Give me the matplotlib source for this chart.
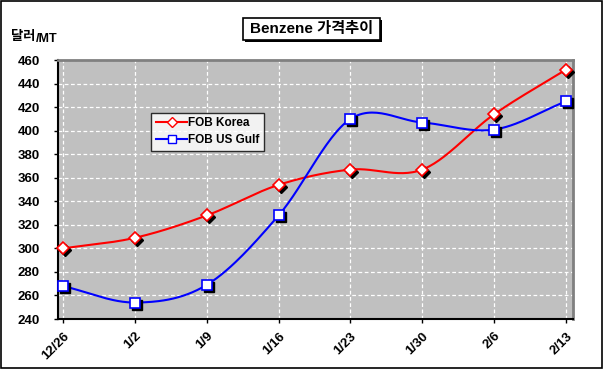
import numpy as np
import matplotlib.pyplot as plt
import matplotlib.transforms as mtransforms
from matplotlib.patches import Rectangle

plt.rcParams['font.family'] = ['Liberation Sans', 'Noto Sans CJK KR', 'DejaVu Sans']

dates = ['12/26', '1/2', '1/9', '1/16', '1/23', '1/30', '2/6', '2/13']
fob_korea = [300, 309, 328, 354, 367, 367, 414, 452]
fob_us_gulf = [268, 254, 269, 328, 410, 407, 401, 425]
y_ticks = list(range(240, 461, 20))


def smooth(xs, ys, n=30):
    # catmull-rom style curve like excel's smoothed line
    xs = np.asarray(xs, float)
    ys = np.asarray(ys, float)
    px = np.concatenate([[2 * xs[0] - xs[1]], xs, [2 * xs[-1] - xs[-2]]])
    py = np.concatenate([[2 * ys[0] - ys[1]], ys, [2 * ys[-1] - ys[-2]]])
    ox, oy = [], []
    for i in range(1, len(px) - 2):
        t = np.linspace(0, 1, n, endpoint=False)
        for p, out in ((px, ox), (py, oy)):
            p0, p1, p2, p3 = p[i - 1], p[i], p[i + 1], p[i + 2]
            out.extend(0.5 * ((2 * p1) + (-p0 + p2) * t
                              + (2 * p0 - 5 * p1 + 4 * p2 - p3) * t ** 2
                              + (-p0 + 3 * p1 - 3 * p2 + p3) * t ** 3))
    ox.append(xs[-1])
    oy.append(ys[-1])
    return np.array(ox), np.array(oy)


fig = plt.figure(figsize=(6.04, 3.69), dpi=100)
fig.patches.append(Rectangle((0.002, 0.003), 0.995, 0.994, transform=fig.transFigure,
                             fill=False, edgecolor='black', linewidth=1.2))

ax = fig.add_axes([0.096, 0.1355, 0.853, 0.7015])
ax.set_facecolor('#C0C0C0')

x = np.arange(len(dates))
shadow = mtransforms.offset_copy(ax.transData, fig=fig, x=2, y=-2, units='dots')

for vals, col, mk, lab in ((fob_korea, '#FF0000', 'D', 'FOB Korea'),
                           (fob_us_gulf, '#0000FF', 's', 'FOB US Gulf')):
    sx, sy = smooth(x, vals)
    ax.plot(sx, sy, color=col, linewidth=1.5, zorder=3)
    ms = 6 if mk == 'D' else 7
    ax.plot(x, vals, linestyle='none', marker=mk, markersize=ms, color='black',
            transform=shadow, zorder=4, clip_on=False)
    ax.plot(x, vals, linestyle='none', marker=mk, markersize=ms, markerfacecolor='white',
            markeredgecolor=col, markeredgewidth=1.2, zorder=5, clip_on=False)
    ax.plot([], [], color=col, linewidth=1.5, marker=mk, markersize=ms - 1,
            markerfacecolor='white', markeredgecolor=col, label=lab)

ax.set_xlim(-0.07, 7.1)
ax.set_ylim(240, 460)
ax.set_yticks(y_ticks)
ax.set_xticks(x)
ax.set_xticklabels(dates, rotation=45, ha='right', rotation_mode='anchor',
                   fontsize=9.5, fontweight='bold')
ax.set_yticklabels([str(v) for v in y_ticks], fontsize=9.5, fontweight='bold')
ax.tick_params(axis='both', length=3, width=1, colors='black')
ax.tick_params(axis='y', pad=10)
ax.tick_params(axis='x', pad=5)
ax.grid(True, color='white', linestyle=(0, (3, 2)), linewidth=0.9)
ax.set_axisbelow(True)
for s in ('top', 'right'):
    ax.spines[s].set_color('#808080')
    ax.spines[s].set_linewidth(2)
for s in ('left', 'bottom'):
    ax.spines[s].set_color('black')
    ax.spines[s].set_linewidth(1.5)

leg = ax.legend(loc='upper left', bbox_to_anchor=(0.17, 0.82),
                prop={'weight': 'bold', 'size': 8.5}, frameon=True, fancybox=False,
                borderpad=0.4, handlelength=2.6, handletextpad=0.1, labelspacing=0.4)
leg.get_frame().set_edgecolor('black')
leg.get_frame().set_linewidth(1)

# title box with drop shadow
fig.patches.append(Rectangle((0.4053, 0.8862), 0.227, 0.0596, transform=fig.transFigure,
                             facecolor='black', edgecolor='none'))
fig.patches.append(Rectangle((0.402, 0.8916), 0.227, 0.0596, transform=fig.transFigure,
                             facecolor='white', edgecolor='black', linewidth=1.2))
fig.text(0.5155, 0.921, 'Benzene 가격추이', fontsize=11, fontweight='bold',
         ha='center', va='center')
fig.text(0.018, 0.9, '달러', fontsize=9.5, fontweight='bold', ha='left', va='center')
fig.text(0.0595, 0.893, '/MT', fontsize=9, fontweight='bold', ha='left', va='center')

fig.savefig('out.png', dpi=100)
